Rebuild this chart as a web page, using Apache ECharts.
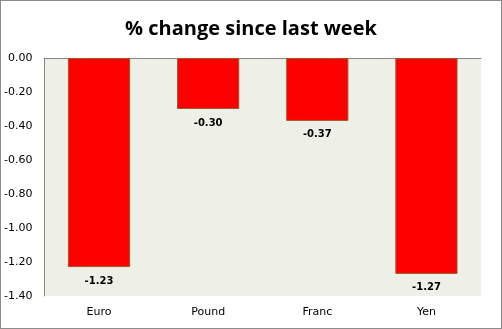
<!DOCTYPE html>
<html>
<head>
<meta charset="utf-8">
<script src="https://cdn.jsdelivr.net/npm/echarts@6/dist/echarts.min.js"></script>
<style>
  html, body { margin: 0; padding: 0; background: #fff; }
  #chart { width: 502px; height: 329px; box-sizing: border-box; border: 1px solid #8c8c8c; }
</style>
</head>
<body>
<div id="chart"></div>
<script>
// Weekly currency moves (%)
const categories = ['Euro', 'Pound', 'Franc', 'Yen'];
const changes = [-1.23, -0.30, -0.37, -1.27];
const yTicks = { min: -1.4, max: 0, interval: 0.2 };

const axisGray = '#868686';
const chart = echarts.init(document.getElementById('chart'));
chart.setOption({
  animation: false,
  title: {
    text: '% change since last week',
    left: 'center',
    top: 13,
    textStyle: { fontFamily: 'Open Sans', fontWeight: 'bold', fontSize: 20, color: '#000' }
  },
  grid: { left: 42, right: 20, top: 57, bottom: 32, containLabel: false,
          show: true, backgroundColor: '#eef0e8', borderWidth: 0 },
  xAxis: [{
    type: 'category',
    data: categories,
    position: 'bottom',
    axisLine: { show: false },
    axisTick: { show: false },
    axisLabel: { fontFamily: 'DejaVu Sans', fontSize: 11, color: '#000', margin: 11 }
  }, {
    // zero line along the top edge of the plot
    type: 'category',
    data: categories,
    position: 'top',
    axisLine: { show: true, lineStyle: { color: axisGray, width: 1 } },
    axisTick: { show: false },
    axisLabel: { show: false }
  }],
  yAxis: {
    type: 'value',
    min: yTicks.min,
    max: yTicks.max,
    interval: yTicks.interval,
    splitLine: { show: false },
    axisLine: { show: true, lineStyle: { color: axisGray, width: 1 } },
    axisTick: { show: false },
    axisLabel: { fontFamily: 'DejaVu Sans', fontSize: 11, color: '#000', margin: 12,
                 formatter: v => v.toFixed(2) }
  },
  series: [{
    type: 'bar',
    data: changes,
    barCategoryGap: '43%',
    itemStyle: { color: '#ff0000', borderColor: '#9a5a2a', borderWidth: 1 },
    label: {
      show: true,
      position: 'bottom',
      distance: 9,
      fontFamily: 'DejaVu Sans',
      fontWeight: 'bold',
      fontSize: 10,
      color: '#000',
      formatter: p => p.value.toFixed(2)
    }
  }]
});
</script>
</body>
</html>
